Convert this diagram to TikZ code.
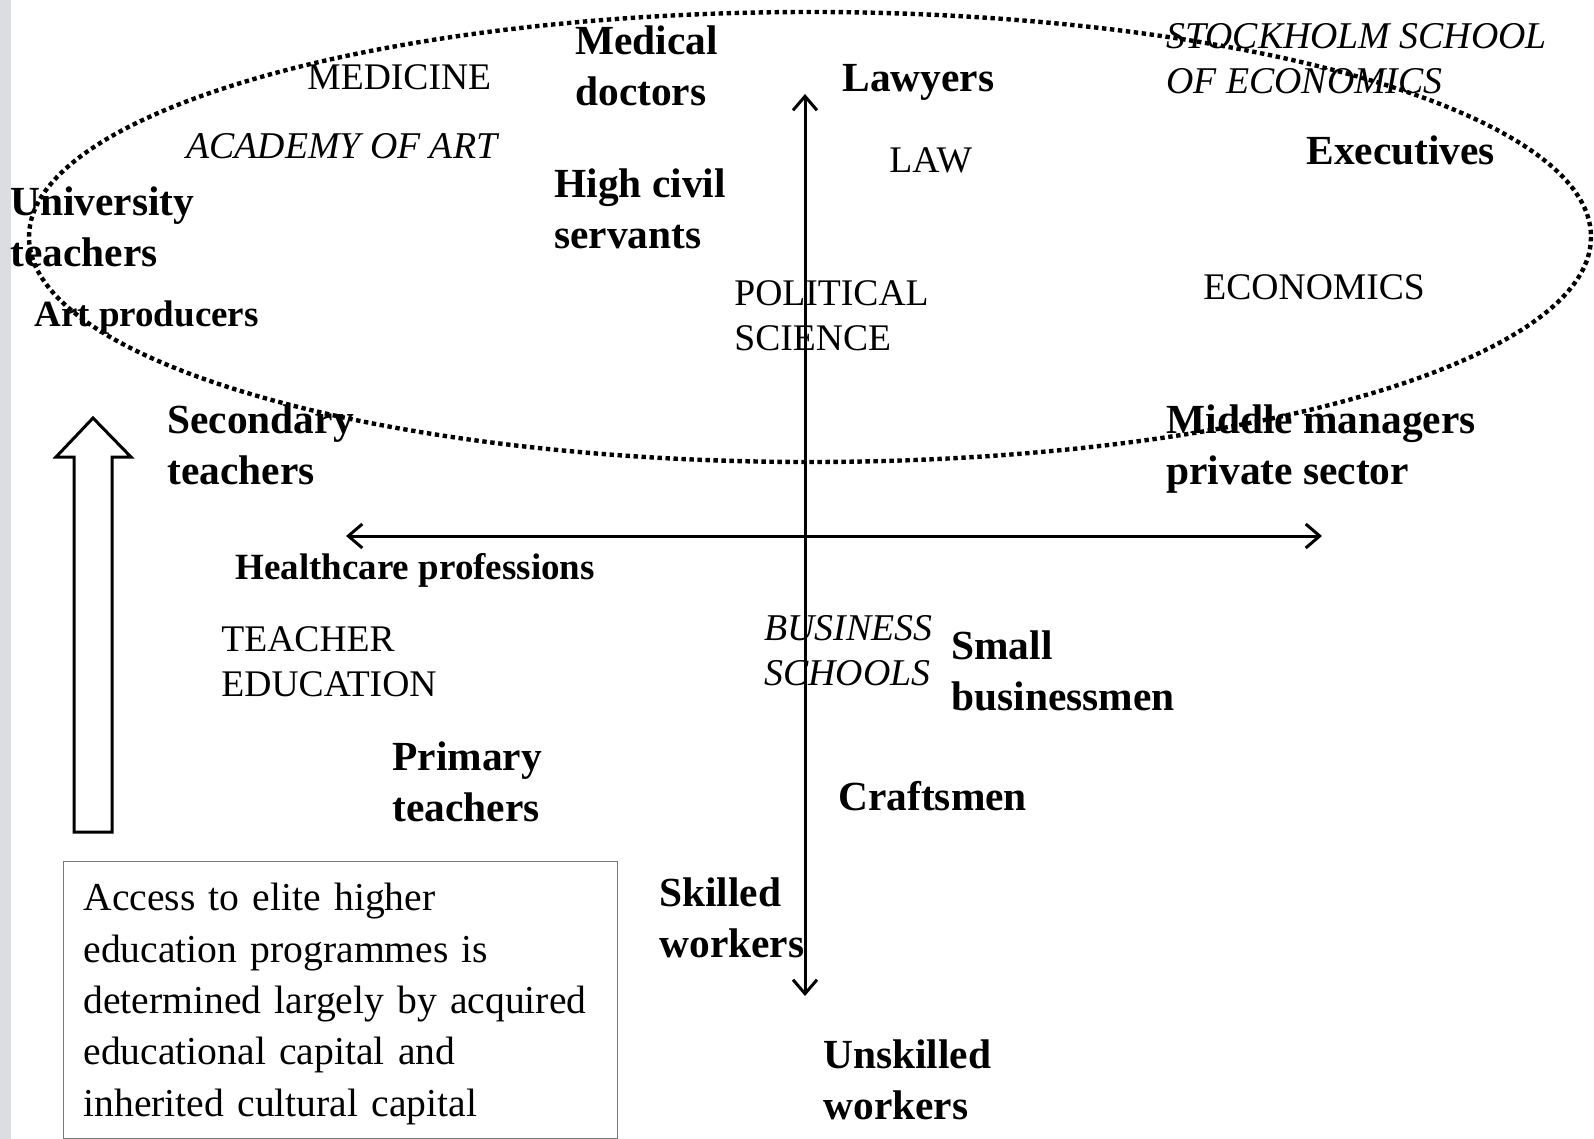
\documentclass[tikz,border=0pt]{standalone}
\usepackage{fontspec}
\setmainfont{Liberation Serif}
\usetikzlibrary{arrows.meta}
\definecolor{stripgray}{RGB}{220,221,224}
\definecolor{boxgray}{RGB}{120,120,120}

\begin{document}
\begin{tikzpicture}[
            x=0.5pt, y=-0.5pt,
            group/.style={anchor=north west, inner sep=0pt, align=left, font=\fontsize{20.7}{25.7}\selectfont\bfseries},
            smallgroup/.style={group, font=\fontsize{18.5}{22}\selectfont\bfseries},
            field/.style={anchor=north west, inner sep=0pt, align=left, font=\fontsize{18.8}{22.4}\selectfont},
            school/.style={field, font=\fontsize{18.9}{22.4}\selectfont\itshape},
            note/.style={anchor=north west, draw=boxgray, line width=0.6pt, inner xsep=10pt, inner ysep=0pt, minimum width=277pt, minimum height=138.5pt, text width=257pt, align=left, font=\fontsize{19.8}{25.7}\selectfont},
            axis/.style={{Straight Barb[length=7pt,width=12pt]}-{Straight Barb[length=7pt,width=12pt]}, line width=1.5pt},
            elite/.style={line width=2.2pt, dash pattern=on 2.2pt off 1.8pt},
            hollow/.style={line width=1.5pt, miter limit=10}
        ]
            \useasboundingbox (0,0) rectangle (1594,1139);
            \fill[stripgray] (0,0) rectangle (11,1139);

            % programmes
            \node[field] (med) at (307,64) {MEDICINE};
            \node[school] (art) at (186,133) {ACADEMY OF ART};
            \node[field] (law) at (889,147) {LAW};
            \node[school] (sse) at (1166,23) {STOCKHOLM SCHOOL\\OF ECONOMICS};
            \node[field] (eco) at (1203,274) {ECONOMICS};
            \node[field] (pol) at (734,280) {POLITICAL\\SCIENCE};
            \node[field] (ted) at (221,626) {TEACHER\\EDUCATION};
            \node[school] (bus) at (764,615) {BUSINESS\\SCHOOLS};

            % occupations
            \node[group] (doctors) at (575,25) {Medical\\doctors};
            \node[group] (lawyers) at (842,64) {Lawyers};
            \node[group] (execs) at (1306,135) {Executives};
            \node[group] (univ) at (10,186) {University\\teachers};
            \node[group] (civil) at (554,168) {High civil\\servants};
            \node[smallgroup] (artprod) at (34,300) {Art producers};
            \node[group] (second) at (167,404) {Secondary\\teachers};
            \node[group] (middle) at (1166,404) {Middle managers\\private sector};
            \node[smallgroup] (health) at (235,553) {Healthcare professions};
            \node[group] (smallbiz) at (951,630) {Small\\businessmen};
            \node[group] (primary) at (392,741) {Primary\\teachers};
            \node[group] (crafts) at (838,781) {Craftsmen};
            \node[group] (skilled) at (659,877) {Skilled\\workers};
            \node[group] (unskilled) at (823,1039) {Unskilled\\workers};

            \node[note] (access) at (63,861) {\rule{0pt}{17.6pt}Access to elite higher\\education programmes is\\determined largely by acquired\\educational capital and\\inherited cultural capital};

            % axes
            \coordinate (top) at (805,94);
            \coordinate (bottom) at (805,996);
            \coordinate (left) at (346,536);
            \coordinate (right) at (1322,536);
            \draw[axis] (bottom) -- (top);
            \draw[axis] (left) -- (right);

            \draw[elite] (810,237) ellipse [x radius=781, y radius=225];

            \draw[hollow] (74,832) -- (74,457) -- (56,457) -- (93,418) -- (131,457) -- (112,457) -- (112,832) -- cycle;
        \end{tikzpicture}
\end{document}
